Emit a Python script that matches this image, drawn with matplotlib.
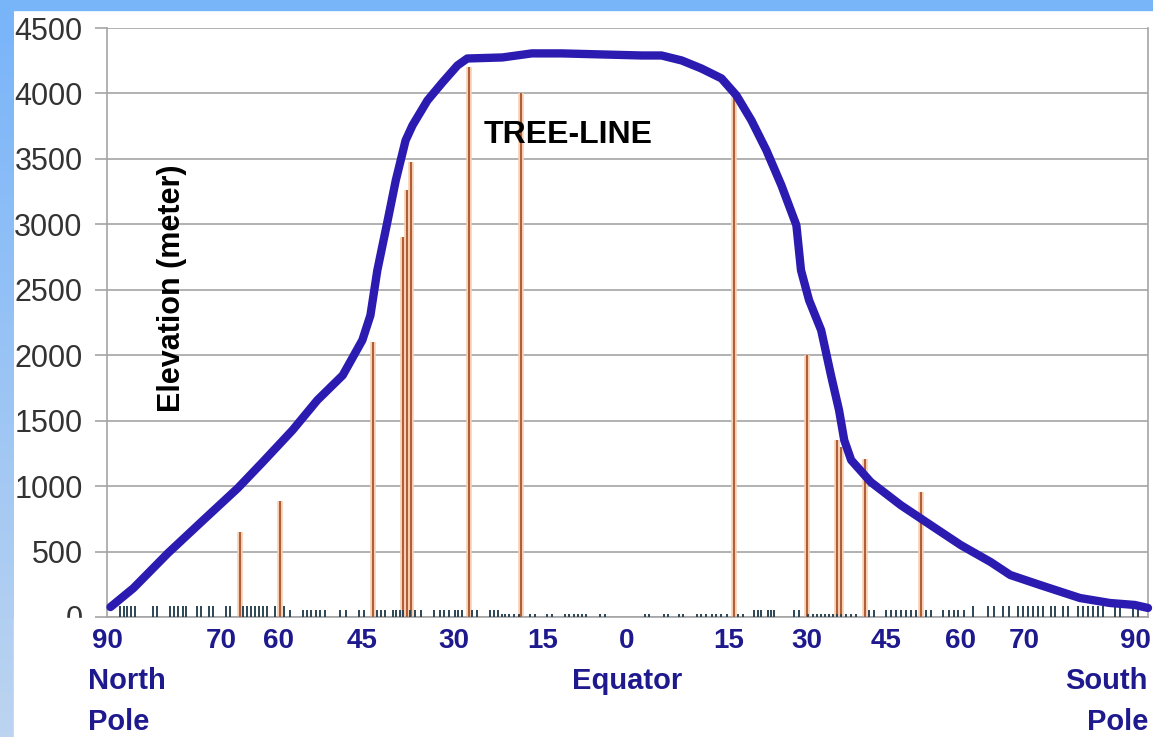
import numpy as np
import matplotlib.pyplot as plt
from matplotlib.patches import Rectangle

plt.rcParams['font.family'] = ['Liberation Sans', 'DejaVu Sans']

# latitude: -90 = North Pole, 0 = Equator, 90 = South Pole
curve_lat = [-90.0, -86.0, -80.0, -73.9, -67.9, -63.6, -58.4, -54.1, -49.7, -46.3,
             -44.9, -43.7, -41.9, -40.5, -38.8, -37.6, -35.0, -32.4, -29.8, -28.1,
             -22.0, -16.9, -11.7, -4.8, 2.2, 5.6, 9.1, 12.5, 16.0, 18.6,
             21.2, 23.8, 26.4, 29.0, 29.8, 31.2, 33.3, 35.0, 36.4, 37.3,
             38.5, 41.9, 47.1, 52.3, 57.5, 62.7, 66.1, 71.3, 78.2, 83.4,
             87.7, 90.0]
curve_elev = [76, 221, 489, 740, 985, 1183, 1428, 1657, 1847, 2115,
              2305, 2649, 3031, 3336, 3641, 3756, 3947, 4084, 4214, 4267,
              4275, 4306, 4306, 4298, 4290, 4290, 4252, 4191, 4115, 3985,
              3794, 3565, 3298, 2993, 2649, 2420, 2191, 1847, 1580, 1351,
              1199, 1031, 855, 702, 550, 420, 321, 244, 145, 107,
              92, 69]

# single mountains (orange bars)
peak_lat = [-67.5, -60.6, -44.5, -39.3, -38.5, -37.8, -27.8, -18.7,
            18.1, 30.9, 36.0, 36.7, 40.9, 50.7]
peak_elev = [650, 890, 2100, 2900, 3260, 3480, 4200, 4000,
             4000, 2000, 1350, 1300, 1210, 955]

# small stations along the base line
rug_tall = [-88.4, -87.7, -87.1, -86.4, -85.8, -82.6, -81.9, -79.6, -78.9, -78.2,
            -77.5, -76.9, -75.0, -74.3, -72.9, -72.2, -69.9, -69.2, -67.0, -66.3,
            -65.6, -64.9, -64.2, -63.5, -62.8, -61.5, -59.9,
            59.6, 62.3, 63.2, 64.9, 65.8, 67.5, 68.4, 69.2, 70.1, 71.0, 71.8,
            73.1, 73.9, 75.3, 76.2, 77.9, 78.8, 79.6, 80.5, 81.3, 82.2, 84.3,
            85.2, 87.4, 88.3]
rug_mid = [-58.9, -56.6, -55.9, -55.2, -54.4, -53.7, -52.8, -50.1, -49.2, -46.9,
           -46.1, -43.8, -43.1, -42.4, -40.9, -40.4, -39.7, -39.2, -38.0, -37.1,
           -36.2, -33.8, -32.9, -32.1, -31.2, -30.3, -29.7, -29.0, -27.2, -26.4,
           -24.1, -23.4, -22.7,
           21.7, 22.4, 22.9, 24.1, 24.6, 25.2, 28.6, 29.5,
           41.6, 42.4, 44.5, 45.4, 46.3, 47.1, 48.0, 48.8, 49.7, 51.4, 52.3,
           54.5, 55.4, 56.3, 57.1, 58.0]
rug_short = [-22.0, -21.5, -20.8, -20.0, -19.1, -17.2, -16.3, -14.3, -13.4, -11.2,
             -10.5, -9.6, -8.9, -8.2, -7.5, -5.1, -4.2,
             2.7, 3.5, 6.0, 6.8, 8.7, 9.4, 11.7, 12.5, 13.4, 14.3, 15.1, 16.0,
             16.9, 18.9, 19.8,
             31.0, 31.9, 32.6, 33.3, 34.0, 34.7, 35.4, 36.0, 36.7, 37.6, 38.5, 39.3]

label_pos = [-90.6, -70.8, -60.8, -46.3, -30.5, -15.1, -0.4, 17.2, 30.9, 44.5, 57.5, 68.6, 87.8]
label_txt = ['90', '70', '60', '45', '30', '15', '0', '15', '30', '45', '60', '70', '90']
y_ticks = list(range(0, 4501, 500))

W, H = 1153, 737
fig = plt.figure(figsize=(W / 100, H / 100), dpi=100)
fig.patch.set_facecolor('white')

# blue frame strips
grad_ax = fig.add_axes([0, 0, 14 / W, 1])
top_c = np.array([120, 180, 250]) / 255
bot_c = np.array([188, 212, 240]) / 255
t = np.linspace(0, 1, 200)[:, None]
grad = (top_c * (1 - t) + bot_c * t)[:, None, :]
grad_ax.imshow(grad, aspect='auto', extent=[0, 1, 0, 1])
grad_ax.axis('off')
fig.add_artist(Rectangle((0, 1 - 10 / H), 1, 10 / H, transform=fig.transFigure,
                         color='#78b4f8', zorder=1))

ax = fig.add_axes([107 / W, 120 / H, 1041 / W, 589 / H])
ax.set_xlim(-90, 90)
ax.set_ylim(0, 4500)

grid_c = '#a4a4a4'
ax.set_yticks(y_ticks)
ax.grid(axis='y', color=grid_c, lw=1.2)
ax.set_axisbelow(True)
for s in ['left', 'right', 'bottom']:
    ax.spines[s].set_color(grid_c)
    ax.spines[s].set_linewidth(1.2)
ax.spines['top'].set_visible(False)
ax.tick_params(axis='y', direction='out', length=8.6, width=1.2, color=grid_c,
               pad=9, labelsize=22, labelcolor='#333333')

ax.set_xticks(label_pos)
ax.set_xticklabels(label_txt, fontsize=20, fontweight='bold', color='#1e1a8e')
ax.tick_params(axis='x', length=0, pad=8)

ax.vlines(peak_lat, 0, peak_elev, color='#f7cfb0', lw=4, zorder=2)
ax.vlines(peak_lat, 0, peak_elev, color='#a9542c', lw=1.3, zorder=3)

rug_c = '#2c4656'
ax.vlines(rug_tall, 0, 85, color=rug_c, lw=1.4, zorder=3)
ax.vlines(rug_mid, 0, 55, color=rug_c, lw=1.4, zorder=3)
ax.vlines(rug_short, 0, 25, color=rug_c, lw=1.4, zorder=3)

ax.plot(curve_lat, curve_elev, color='#2b1bb0', lw=6, solid_capstyle='round',
        solid_joinstyle='round', zorder=4, clip_on=False)

fig.text(568 / W, 1 - 143 / H, 'TREE-LINE', fontsize=23, fontweight='bold',
         color='black', ha='center', va='baseline')
fig.text(172 / W, 1 - 288 / H, 'Elevation (meter)', rotation=90, fontsize=22,
         fontweight='bold', color='black', ha='center', va='center')

# hide the lower half of the "0" label, as in the original
fig.add_artist(Rectangle((14 / W, 0), 72 / W, 119 / H, transform=fig.transFigure,
                         color='white', zorder=2))

navy = '#1e1a8e'
fig.text(88 / W, 1 - 689 / H, 'North', fontsize=21, fontweight='bold', color=navy,
         ha='left', va='baseline')
fig.text(88 / W, 1 - 730 / H, 'Pole', fontsize=21, fontweight='bold', color=navy,
         ha='left', va='baseline')
fig.text(627 / W, 1 - 689 / H, 'Equator', fontsize=21, fontweight='bold', color=navy,
         ha='center', va='baseline')
fig.text(1148 / W, 1 - 689 / H, 'South', fontsize=21, fontweight='bold', color=navy,
         ha='right', va='baseline')
fig.text(1148 / W, 1 - 730 / H, 'Pole', fontsize=21, fontweight='bold', color=navy,
         ha='right', va='baseline')

fig.savefig('out.png', dpi=100)
